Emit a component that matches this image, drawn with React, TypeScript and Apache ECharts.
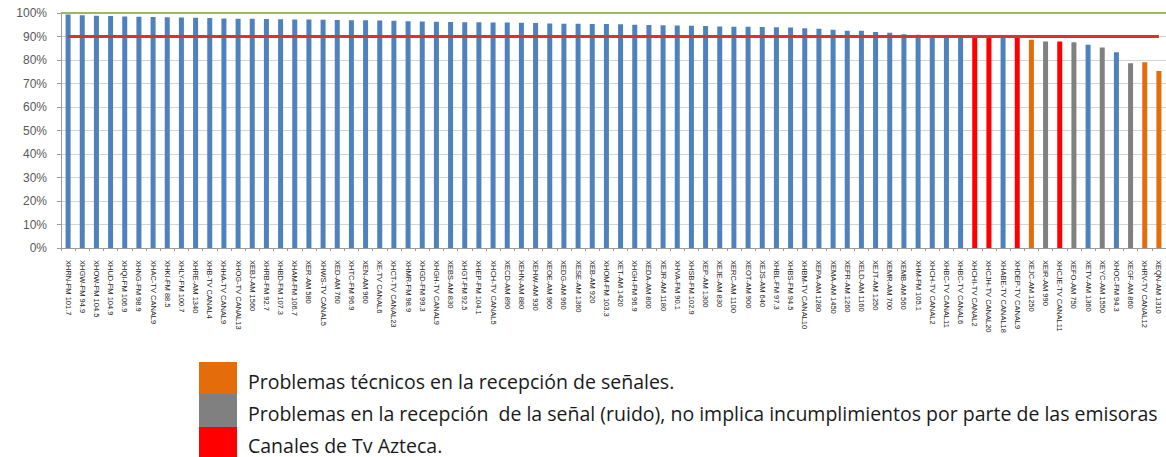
import React, { useEffect, useRef } from "react";
import * as echarts from "echarts";

const categories: string[] = [
  "XHRN-FM 101.7", "XHGW-FM 94.9", "XHOW-FM 104.5", "XHUD-FM 104.9", "XHQI-FM 106.9",
  "XHNG-FM 98.9", "XHAC-TV CANAL9", "XHKI-FM 88.5", "XHLY-FM 100.7", "XHRE-AM 1340",
  "XHB-TV CANAL4", "XHHA-TV CANAL9", "XHOG-TV CANAL13", "XEBJ-AM 1560", "XHRB-FM 92.7",
  "XHBD-FM 107.3", "XHAM-FM 106.7", "XER-AM 580", "XHWS-TV CANAL5", "XED-AM 760",
  "XHTC-FM 96.9", "XEN-AM 960", "XE-TV CANAL6", "XHCT-TV CANAL23", "XHMR-FM 98.9",
  "XHGD-FM 99.3", "XHGH-TV CANAL9", "XEBS-AM 830", "XHGT-FM 92.5", "XHEP-FM 104.1",
  "XHCH-TV CANAL5", "XECD-AM 890", "XEHN-AM 880", "XEHW-AM 930", "XEOE-AM 960",
  "XEDG-AM 960", "XESE-AM 1360", "XEB-AM 920", "XHOM-FM 103.3", "XET-AM 1420",
  "XHGH-FM 96.9", "XEDA-AM 800", "XEJR-AM 1180", "XHVA-FM 90.1", "XHSB-FM 102.9",
  "XEP-AM 1300", "XEJE-AM 830", "XERC-AM 1100", "XEOT-AM 900", "XEJS-AM 640",
  "XHBL-FM 97.3", "XHBS-FM 94.5", "XHBM-TV CANAL10", "XEPA-AM 1280", "XEMA-AM 1450",
  "XEFR-AM 1260", "XELD-AM 1160", "XEJT-AM 1250", "XEMR-AM 700", "XEMB-AM 560",
  "XHM-FM 105.1", "XHCH-TV CANAL2", "XHBC-TV CANAL11", "XHBC-TV CANAL6", "XHCHI-TV CANAL2",
  "XHCJH-TV CANAL20", "XHABE-TV CANAL18", "XHDEP-TV CANAL9", "XEJC-AM 1250", "XEIR-AM 990",
  "XHCJE-TV CANAL11", "XEFO-AM 750", "XETV-AM 1360", "XEYC-AM 1550", "XHOC-FM 94.3",
  "XEGF-AM 860", "XHRV-TV CANAL12", "XEQN-AM 1310",
];

const values: number[] = [
  99.4, 99.0, 98.8, 98.7, 98.5, 98.4, 98.3, 98.2, 98.1, 98.0,
  97.9, 97.7, 97.6, 97.6, 97.5, 97.3, 97.2, 97.2, 97.1, 97.0,
  96.9, 96.9, 96.8, 96.7, 96.5, 96.4, 96.3, 96.2, 96.1, 96.1,
  96.0, 96.0, 95.9, 95.7, 95.5, 95.4, 95.4, 95.3, 95.3, 95.2,
  95.0, 94.9, 94.8, 94.7, 94.6, 94.5, 94.3, 94.2, 94.2, 94.0,
  93.9, 93.8, 93.5, 93.3, 92.9, 92.4, 92.4, 91.9, 91.6, 91.0,
  90.7, 90.4, 90.3, 90.0, 90.4, 90.4, 90.0, 90.0, 88.6, 87.9,
  87.9, 87.6, 86.5, 85.3, 83.3, 78.6, 79.0, 75.3,
];

// n = normal, t = problemas técnicos, r = ruido, a = TV Azteca
const groups: string[] = [
  "n", "n", "n", "n", "n", "n", "n", "n", "n", "n",
  "n", "n", "n", "n", "n", "n", "n", "n", "n", "n",
  "n", "n", "n", "n", "n", "n", "n", "n", "n", "n",
  "n", "n", "n", "n", "n", "n", "n", "n", "n", "n",
  "n", "n", "n", "n", "n", "n", "n", "n", "n", "n",
  "n", "n", "n", "n", "n", "n", "n", "n", "n", "n",
  "n", "n", "n", "n", "a", "a", "n", "a", "t", "r",
  "a", "r", "n", "r", "n", "r", "t", "t",
];

const thresholdGoal = 90;
const topLine = 100;

const legendLabels: string[] = [
  "Problemas técnicos en la recepción de señales.",
  "Problemas en la recepción  de la señal (ruido), no implica incumplimientos por parte de las emisoras",
  "Canales de Tv Azteca.",
];
const legendGroups: string[] = ["t", "r", "a"];

const groupColors: Record<string, string> = {
  n: "#4F81BD",
  t: "#E46C0A",
  r: "#808080",
  a: "#FF0000",
};

export default function App() {
  const ref = useRef<HTMLDivElement>(null);

  useEffect(() => {
    if (!ref.current) return;
    const chart = echarts.init(ref.current, undefined, { renderer: "svg" });

    const legendTops = [362, 394, 427];
    const legendHeights = [32, 33, 30];
    const graphics: any[] = [];
    legendGroups.forEach((g, i) => {
      graphics.push({
        type: "rect",
        left: 199,
        top: legendTops[i],
        shape: { width: 38, height: legendHeights[i] },
        style: { fill: groupColors[g] },
      });
      graphics.push({
        type: "text",
        x: 248,
        y: legendTops[i] + legendHeights[i] / 2 + 3,
        style: {
          text: legendLabels[i],
          fill: "#1a1a1a",
          font: '19.5px "Open Sans", sans-serif',
          textVerticalAlign: "middle",
          textAlign: "left",
        },
      });
    });

    chart.setOption({
      animation: false,
      backgroundColor: "#ffffff",
      grid: { left: 61, right: -4, top: 13, bottom: 209, containLabel: false },
      xAxis: {
        type: "category",
        data: categories,
        boundaryGap: true,
        axisLine: { show: true, lineStyle: { color: "#9a9a9a", width: 1 } },
        axisTick: { show: true, length: 3, interval: 0, lineStyle: { color: "#9a9a9a" } },
        axisLabel: {
          interval: 0,
          rotate: -90,
          fontSize: 7.5,
          color: "#222222",
          margin: 12,
          fontFamily: "Liberation Sans, sans-serif",
        },
      },
      yAxis: {
        type: "value",
        min: 0,
        max: 100,
        interval: 10,
        axisLabel: {
          formatter: "{value}%",
          fontSize: 12,
          color: "#595959",
          margin: 14,
          fontFamily: "Liberation Sans, sans-serif",
        },
        axisLine: { show: true, lineStyle: { color: "#9a9a9a" } },
        axisTick: { show: true, length: 4, lineStyle: { color: "#9a9a9a" } },
        splitLine: { show: true, lineStyle: { color: "#d4d4d4", width: 1 } },
      },
      series: [
        {
          type: "bar",
          barWidth: 5,
          data: values.map((v, i) => ({
            value: v,
            itemStyle: { color: groupColors[groups[i]] },
          })),
          markLine: {
            symbol: "none",
            silent: true,
            label: { show: false },
            data: [
              {
                yAxis: topLine,
                lineStyle: { color: "#9BBB59", width: 2, type: "solid" },
              },
              [
                {
                  coord: [categories[0], thresholdGoal],
                  lineStyle: { color: "#D9342B", width: 3, type: "solid" },
                },
                { coord: [categories[categories.length - 1], thresholdGoal] },
              ],
            ],
          },
        },
      ],
      graphic: graphics,
    });

    return () => chart.dispose();
  }, []);

  return (
    <div
      ref={ref}
      style={{ position: "absolute", left: 0, top: 0, width: 1166, height: 457, background: "#fff" }}
    />
  );
}
